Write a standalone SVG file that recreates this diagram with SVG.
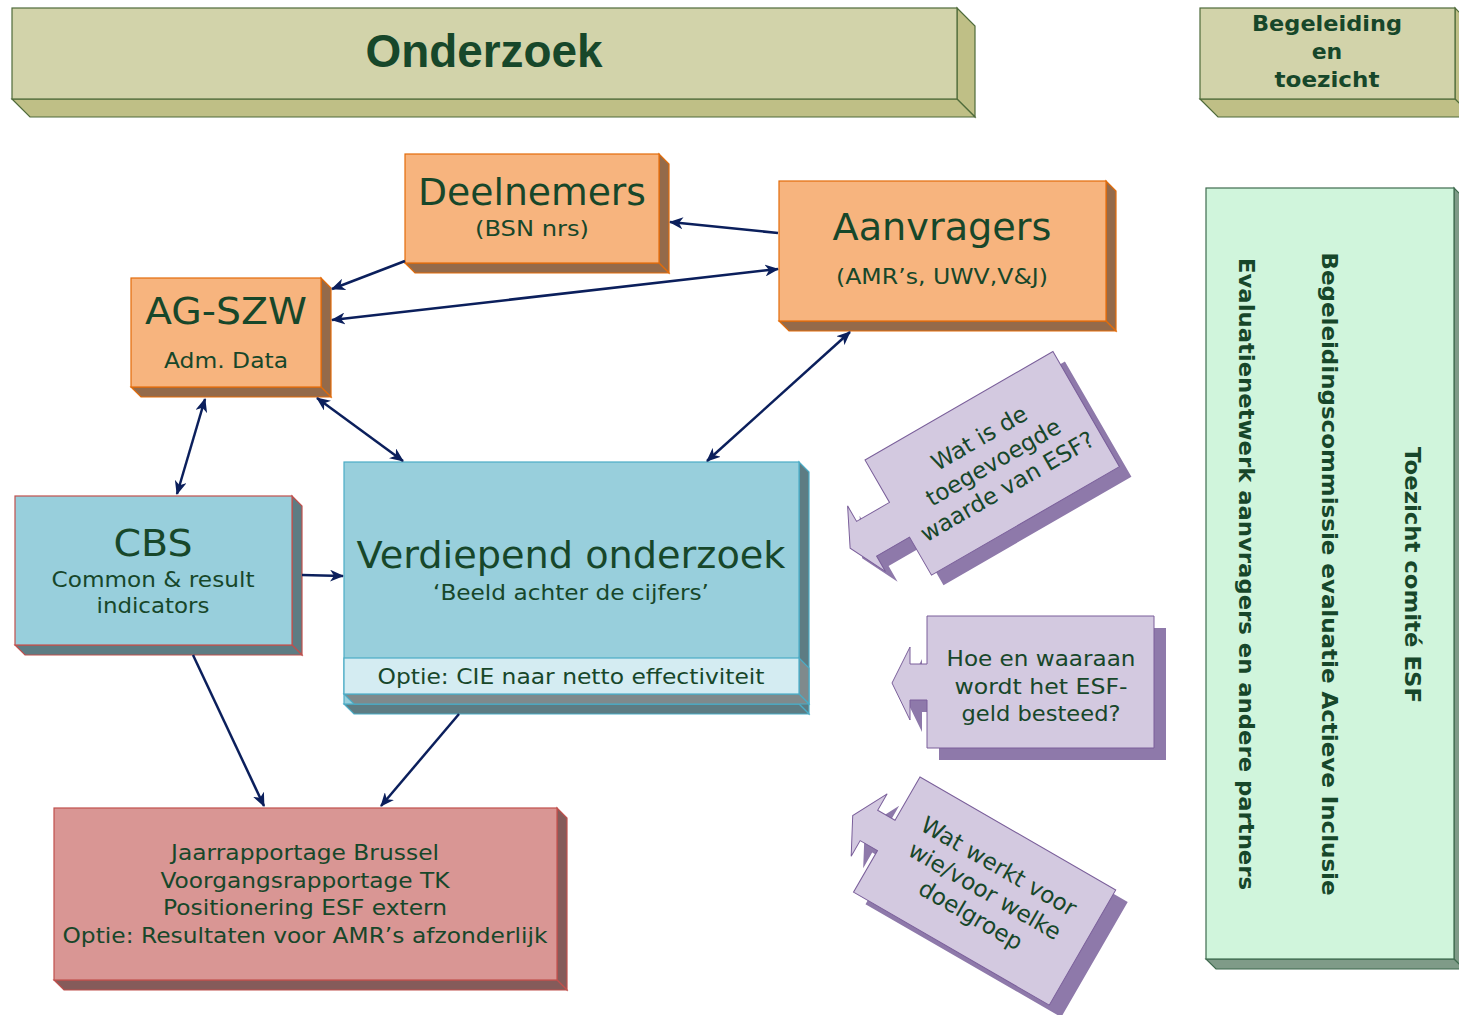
<svg xmlns="http://www.w3.org/2000/svg" width="1459" height="1015" viewBox="0 0 1459 1015">
<defs>
<marker id="ah" viewBox="0 0 14 12" refX="13" refY="6" markerWidth="14" markerHeight="12" markerUnits="userSpaceOnUse" orient="auto-start-reverse">
<path d="M0,0 L14,6 L0,12 L4,6 Z" fill="#0b1f5c"/>
</marker>
</defs>
<style>
text{font-family:"DejaVu Sans",Verdana,sans-serif;fill:#17472a;text-anchor:middle}
.hdr{fill:#d2d3aa;stroke:#4f6b3a;stroke-width:1.2}
.hdrs{fill:#bfbf86;stroke:#4f6b3a;stroke-width:1.2}
.org{fill:#f7b47e;stroke:#e36c0a;stroke-width:1.2}
.orgs{fill:#946a4a;stroke:#e36c0a;stroke-width:1.2}
.blu{fill:#98cfdc;stroke:#4bacc6;stroke-width:1.2}
.blus{fill:#5d7c83;stroke:#4bacc6;stroke-width:1.2}
.band{fill:#d4ecf2;stroke:#4bacc6;stroke-width:1.2}
.bands{fill:#7f8a8c;stroke:#4bacc6;stroke-width:1.2}
.cbs{fill:#98cfdc;stroke:#c0504d;stroke-width:1.2}
.cbss{fill:#5d7c83;stroke:#c0504d;stroke-width:1.2}
.red{fill:#d99694;stroke:#c0504d;stroke-width:1.2}
.reds{fill:#855b5a;stroke:#c0504d;stroke-width:1.2}
.pan{fill:#d0f5dc;stroke:#3f6b4f;stroke-width:1.2}
.pans{fill:#7f9b88;stroke:#3f6b4f;stroke-width:1.2}
.cal{fill:#d3c9e0;stroke:#7a5f9a;stroke-width:1}
.cals{fill:#8e79aa}
.con{fill:none;stroke:#0b1f5c;stroke-width:2.5}
.big{font-size:38px}
.sub{font-size:21px}
.bold{font-weight:bold}
.q{font-size:23px}
</style>

<g id="hdr-onderzoek">
<polygon class="hdrs" points="957,8 975,26 975,117 957,99"/>
<polygon class="hdrs" points="12,99 957,99 975,117 30,117"/>
<rect class="hdr" x="12" y="8" width="945" height="91"/>
<text x="484" y="67" style="font-family:'Liberation Sans',Arial,sans-serif;font-weight:bold;font-size:46px" textLength="237" lengthAdjust="spacingAndGlyphs">Onderzoek</text>
</g>

<g id="hdr-begeleiding">
<polygon class="hdrs" points="1455,8 1473,26 1473,117 1455,99"/>
<polygon class="hdrs" points="1200,99 1455,99 1473,117 1218,117"/>
<rect class="hdr" x="1200" y="8" width="255" height="91"/>
<text class="bold" x="1327" y="31" font-size="22" textLength="150" lengthAdjust="spacingAndGlyphs">Begeleiding</text>
<text class="bold" x="1327" y="59" font-size="22">en</text>
<text class="bold" x="1327" y="87" font-size="22" textLength="105" lengthAdjust="spacingAndGlyphs">toezicht</text>
</g>

<g id="panel">
<polygon class="pans" points="1454,188 1464,198 1464,969 1454,959"/>
<polygon class="pans" points="1206,959 1454,959 1464,969 1216,969"/>
<rect class="pan" x="1206" y="188" width="248" height="771"/>
<text class="bold" font-size="22" transform="translate(1405,575) rotate(90)" textLength="256" lengthAdjust="spacingAndGlyphs">Toezicht comité ESF</text>
<text class="bold" font-size="22" transform="translate(1322,574) rotate(90)" textLength="643" lengthAdjust="spacingAndGlyphs">Begeleidingscommissie evaluatie Actieve Inclusie</text>
<text class="bold" font-size="22" transform="translate(1239,574) rotate(90)" textLength="632" lengthAdjust="spacingAndGlyphs">Evaluatienetwerk aanvragers en andere partners</text>
</g>

<g id="deelnemers">
<polygon class="orgs" points="659,154 669,164 669,273 659,263"/>
<polygon class="orgs" points="405,263 659,263 669,273 415,273"/>
<rect class="org" x="405" y="154" width="254" height="109"/>
<text class="big" x="532" y="205" textLength="228" lengthAdjust="spacingAndGlyphs">Deelnemers</text>
<text class="sub" x="532" y="236" textLength="114" lengthAdjust="spacingAndGlyphs">(BSN nrs)</text>
</g>

<g id="aanvragers">
<polygon class="orgs" points="1106,181 1116,191 1116,331 1106,321"/>
<polygon class="orgs" points="779,321 1106,321 1116,331 789,331"/>
<rect class="org" x="779" y="181" width="327" height="140"/>
<text class="big" x="942" y="240" textLength="219" lengthAdjust="spacingAndGlyphs">Aanvragers</text>
<text class="sub" x="942" y="284" textLength="212" lengthAdjust="spacingAndGlyphs">(AMR’s, UWV,V&amp;J)</text>
</g>

<g id="agszw">
<polygon class="orgs" points="321,278 331,288 331,397 321,387"/>
<polygon class="orgs" points="131,387 321,387 331,397 141,397"/>
<rect class="org" x="131" y="278" width="190" height="109"/>
<text class="big" x="226" y="324" textLength="162" lengthAdjust="spacingAndGlyphs">AG-SZW</text>
<text class="sub" x="226" y="368" textLength="124" lengthAdjust="spacingAndGlyphs">Adm. Data</text>
</g>

<g id="cbs">
<polygon class="cbss" points="292,496 302,506 302,655 292,645"/>
<polygon class="cbss" points="15,645 292,645 302,655 25,655"/>
<rect class="cbs" x="15" y="496" width="277" height="149"/>
<text class="big" x="153" y="556" textLength="79" lengthAdjust="spacingAndGlyphs">CBS</text>
<text class="sub" x="153" y="587" textLength="203" lengthAdjust="spacingAndGlyphs">Common &amp; result</text>
<text class="sub" x="153" y="613" textLength="113" lengthAdjust="spacingAndGlyphs">indicators</text>
</g>

<g id="verdiepend">
<polygon class="blus" points="799,462 809,472 809,714 799,704"/>
<polygon class="blus" points="344,704 799,704 809,714 354,714"/>
<rect class="blu" x="344" y="462" width="455" height="242"/>
<polygon class="bands" points="799,658 809,668 809,704 799,694"/>
<polygon class="bands" points="344,694 799,694 809,704 354,704"/>
<rect class="band" x="344" y="658" width="455" height="36"/>
<text class="big" x="571" y="568" textLength="429" lengthAdjust="spacingAndGlyphs">Verdiepend onderzoek</text>
<text class="sub" x="571" y="600" textLength="276" lengthAdjust="spacingAndGlyphs">‘Beeld achter de cijfers’</text>
<text class="sub" x="571" y="684" textLength="387" lengthAdjust="spacingAndGlyphs">Optie: CIE naar netto effectiviteit</text>
</g>

<g id="rapportage">
<polygon class="reds" points="557,808 567,818 567,990 557,980"/>
<polygon class="reds" points="54,980 557,980 567,990 64,990"/>
<rect class="red" x="54" y="808" width="503" height="172"/>
<text class="sub" x="305" y="860" textLength="268" lengthAdjust="spacingAndGlyphs">Jaarrapportage Brussel</text>
<text class="sub" x="305" y="888" textLength="289" lengthAdjust="spacingAndGlyphs">Voorgangsrapportage TK</text>
<text class="sub" x="305" y="915" textLength="284" lengthAdjust="spacingAndGlyphs">Positionering ESF extern</text>
<text class="sub" x="305" y="943" textLength="485" lengthAdjust="spacingAndGlyphs">Optie: Resultaten voor AMR’s afzonderlijk</text>
</g>

<g id="vraag-toegevoegde-waarde">
<path class="cals" transform="translate(877,470) rotate(-30)" d="M0,0 L217,0 L217,133 L0,133 L0,89 L-38,89 L-38,107 L-57,69 L-38,31 L-38,49 L0,49 Z"/>
<g transform="translate(865,460) rotate(-30)">
<path class="cal" d="M0,0 L217,0 L217,133 L0,133 L0,89 L-38,89 L-38,107 L-57,69 L-38,31 L-38,49 L0,49 Z"/>
<text class="q" x="110" y="46">Wat is de</text>
<text class="q" x="110" y="74">toegevoegde</text>
<text class="q" x="110" y="102">waarde van ESF?</text>
</g>
</g>

<g id="vraag-besteding">
<path class="cals" transform="translate(12,12)" d="M927,616 L1154,616 L1154,748 L927,748 L927,700 L910,700 L910,720 L892,683 L910,647 L910,664 L927,664 Z"/>
<path class="cal" d="M927,616 L1154,616 L1154,748 L927,748 L927,700 L910,700 L910,720 L892,683 L910,647 L910,664 L927,664 Z"/>
<text class="sub" x="1041" y="666" textLength="189" lengthAdjust="spacingAndGlyphs">Hoe en waaraan</text>
<text class="sub" x="1041" y="694" textLength="173" lengthAdjust="spacingAndGlyphs">wordt het ESF-</text>
<text class="sub" x="1041" y="721" textLength="159" lengthAdjust="spacingAndGlyphs">geld besteed?</text>
</g>

<g id="vraag-wat-werkt">
<path class="cals" transform="translate(932,789) rotate(30)" d="M0,0 L226,0 L226,133 L0,133 L0,85 L-20,85 L-20,103 L-39,67 L-20,31 L-20,50 L0,50 Z"/>
<g transform="translate(920,777) rotate(30)">
<path class="cal" d="M0,0 L226,0 L226,133 L0,133 L0,85 L-20,85 L-20,103 L-39,67 L-20,31 L-20,50 L0,50 Z"/>
<text class="q" x="113" y="46">Wat werkt voor</text>
<text class="q" x="113" y="74">wie/voor welke</text>
<text class="q" x="113" y="102">doelgroep</text>
</g>
</g>

<g id="connectors">
<path class="con" d="M778,233 L670,222" marker-end="url(#ah)"/>
<path class="con" d="M405,261 L332,289" marker-end="url(#ah)"/>
<path class="con" d="M332,320 L778,269" marker-start="url(#ah)" marker-end="url(#ah)"/>
<path class="con" d="M850,332 L707,461" marker-start="url(#ah)" marker-end="url(#ah)"/>
<path class="con" d="M317,398 L403,461" marker-start="url(#ah)" marker-end="url(#ah)"/>
<path class="con" d="M205,399 L177,494" marker-start="url(#ah)" marker-end="url(#ah)"/>
<path class="con" d="M302,575 L343,576" marker-end="url(#ah)"/>
<path class="con" d="M193,655 L264,806" marker-end="url(#ah)"/>
<path class="con" d="M459,714 L381,806" marker-end="url(#ah)"/>
</g>
</svg>
